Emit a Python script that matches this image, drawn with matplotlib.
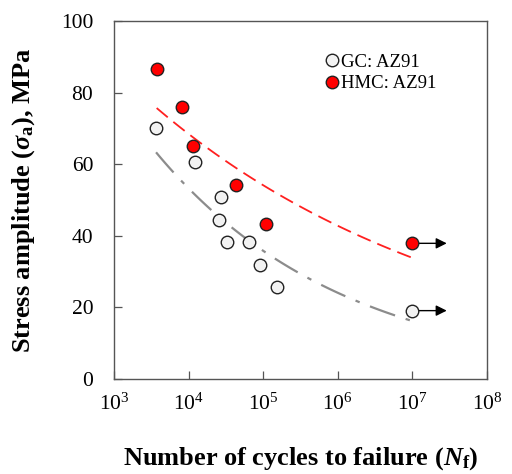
import numpy as np
import matplotlib
matplotlib.use('Agg')
import matplotlib.pyplot as plt
from matplotlib.ticker import LogLocator, NullLocator

# Fatigue data
gc_cycles = [3.66e3, 1.23e4, 2.75e4, 2.57e4, 3.24e4, 6.46e4, 9.12e4, 1.51e5, 1.0e7]
gc_stress = [70.0, 60.5, 50.8, 44.5, 38.2, 38.2, 31.8, 25.6, 19.1]
hmc_cycles = [3.73e3, 8.24e3, 1.15e4, 4.37e4, 1.10e5, 1.0e7]
hmc_stress = [86.6, 75.9, 65.0, 54.2, 43.4, 37.9]
labels = ['GC: AZ91', 'HMC: AZ91']
runout = 1.0e7

plt.rcParams['font.family'] = ['Liberation Serif', 'DejaVu Serif']
plt.rcParams['mathtext.fontset'] = 'custom'
plt.rcParams['mathtext.rm'] = 'Liberation Serif'
plt.rcParams['mathtext.it'] = 'Liberation Serif:italic:bold'
plt.rcParams['mathtext.bf'] = 'Liberation Serif:bold'

fig = plt.figure(figsize=(5.12, 4.74), dpi=100)
ax = fig.add_axes([0.2227, 0.2004, 0.7285, 0.7553])


def power_fit(n, s):
    # Basquin-type fit: log(s) linear in log(n)
    b, a = np.polyfit(np.log10(n), np.log10(s), 1)
    nn = np.logspace(np.log10(min(n)), np.log10(max(n)), 100)
    return nn, 10 ** (a + b * np.log10(nn))


nn, ss = power_fit(gc_cycles, gc_stress)
ax.plot(nn, ss, color='#8c8c8c', lw=1.6, dashes=(12, 5, 2, 5), zorder=2)
nn, ss = power_fit(hmc_cycles, hmc_stress)
ax.plot(nn, ss, color='#ff2020', lw=1.3, dashes=(8, 4), zorder=2)

# runout arrows
for s in (gc_stress[-1], hmc_stress[-1]):
    ax.annotate('', xy=(runout * 10 ** 0.46, s), xytext=(runout, s),
                arrowprops=dict(arrowstyle='-|>', color='black', lw=1.0,
                                mutation_scale=16, shrinkA=0, shrinkB=0),
                zorder=3)

ax.plot(gc_cycles, gc_stress, 'o', ms=9, mfc='#f2f2f2', mec='#222222',
        mew=1.0, ls='none', label=labels[0], zorder=4)
ax.plot(hmc_cycles, hmc_stress, 'o', ms=9, mfc='#ff0000', mec='#222222',
        mew=1.0, ls='none', label=labels[1], zorder=4)

ax.set_xscale('log')
ax.set_xlim(1e3, 1e8)
ax.set_ylim(0, 100)
ax.set_yticks(range(0, 101, 20))
ax.xaxis.set_major_locator(LogLocator(base=10, numticks=10))
ax.xaxis.set_minor_locator(NullLocator())
ax.tick_params(direction='in', length=6, width=0.9, color='#555555',
               labelsize=15.5)
ax.tick_params(axis='x', pad=10.5)
ax.tick_params(axis='y', pad=15)
for sp in ax.spines.values():
    sp.set_color('#555555')
    sp.set_linewidth(1.0)

ax.set_ylabel(r'Stress amplitude ($\sigma_{\mathbf{a}}$), MPa',
              fontsize=19, fontweight='bold', labelpad=17)
ax.set_xlabel(r'Number of cycles to failure ($N_{\mathbf{f}}$)',
              fontsize=19, fontweight='bold', labelpad=22)

ax.legend(loc='upper left', bbox_to_anchor=(0.538, 0.93), frameon=False,
          fontsize=13.5, handletextpad=0.0, borderaxespad=0, labelspacing=0.25,
          handlelength=1.0)

fig.savefig('out.png', dpi=100)
